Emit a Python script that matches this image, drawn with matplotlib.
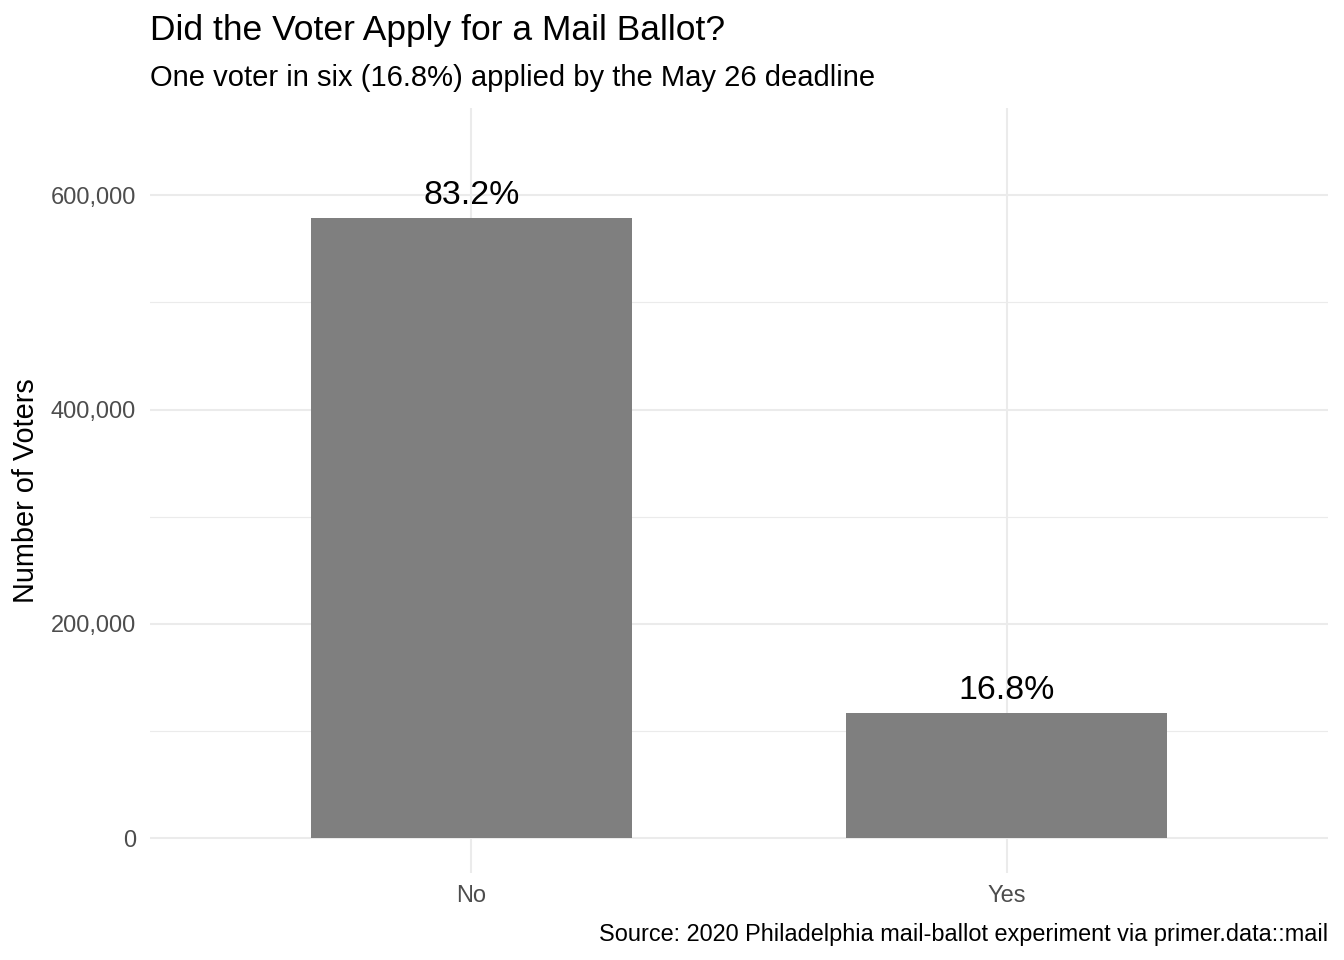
import matplotlib.pyplot as plt
from matplotlib.ticker import FuncFormatter, MultipleLocator

plt.rcParams['font.family'] = ['Liberation Sans', 'DejaVu Sans']

# data
answers = ['No', 'Yes']
voters = [579000, 117200]

W, H = 1344, 960
fig = plt.figure(figsize=(W / 100, H / 100), dpi=100)
# panel box in pixels: left 150, right 1328, top 108, bottom 873
ax = fig.add_axes([150 / W, 1 - 873 / H, (1328 - 150) / W, (873 - 108) / H])

total = sum(voters)
xpos = list(range(1, len(answers) + 1))
ax.bar(xpos, voters, width=0.6, color='#7F7F7F', zorder=2)
for x, n in zip(xpos, voters):
    ax.annotate(f'{n / total * 100:.1f}%', (x, n), xytext=(0, 5),
                textcoords='offset points', ha='center', va='bottom',
                fontsize=24.4, color='black', zorder=3)

ax.set_xlim(0.4, 2.6)
ax.set_ylim(-32450, 681450)
ax.set_xticks(xpos)
ax.set_xticklabels(answers)
ax.yaxis.set_major_locator(MultipleLocator(200000))
ax.yaxis.set_minor_locator(MultipleLocator(100000))
ax.yaxis.set_major_formatter(FuncFormatter(lambda v, p: f'{int(v):,}'))

ax.grid(which='major', color='#EBEBEB', lw=1.5, zorder=0)
ax.grid(which='minor', axis='y', color='#EBEBEB', lw=0.8, zorder=0)
ax.set_axisbelow(True)
for s in ax.spines.values():
    s.set_visible(False)
ax.tick_params(which='both', length=0, labelsize=17, labelcolor='#4D4D4D')
ax.tick_params(axis='y', pad=10)
ax.tick_params(axis='x', pad=9)

ax.set_ylabel('Number of Voters', fontsize=20.8, color='black')
ax.yaxis.set_label_coords(-0.0934, 0.5)

fig.text(150 / W, 1 - 40 / H, 'Did the Voter Apply for a Mail Ballot?',
         fontsize=25.5, va='baseline', ha='left')
fig.text(150 / W, 1 - 86 / H, 'One voter in six (16.8%) applied by the May 26 deadline',
         fontsize=21, va='baseline', ha='left')
fig.text(1328 / W, 1 - 941 / H, 'Source: 2020 Philadelphia mail-ballot experiment via primer.data::mail',
         fontsize=16.9, va='baseline', ha='right')

fig.savefig('out.png', dpi=100, facecolor='white')
